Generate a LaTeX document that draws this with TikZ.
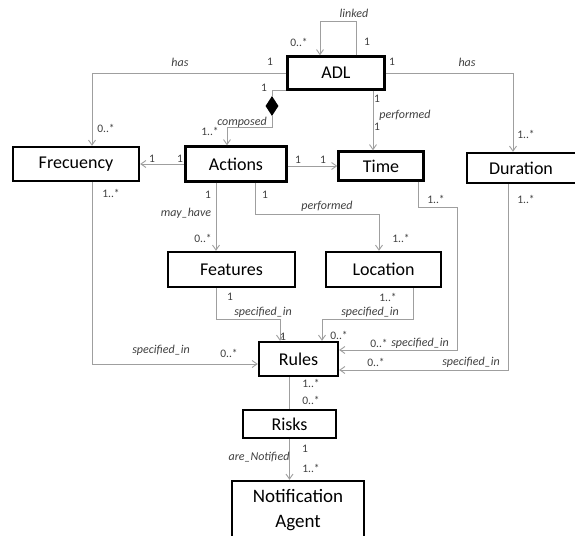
\documentclass[tikz,border=0pt]{standalone}
\usepackage{fontspec}
\setmainfont{Carlito}
\usepackage{tikz}
\usetikzlibrary{arrows.meta,shapes.geometric}

\begin{document}
\begin{tikzpicture}[x=1pt,y=-1pt,
  box/.style={draw=black,line width=2.4pt,inner sep=0pt,font=\fontsize{18}{20}\selectfont},
  conn/.style={draw=gray!75,line width=0.9pt},
  arr/.style={conn,-{Straight Barb[length=5pt,width=7pt]}},
  mult/.style={inner sep=0pt,text=black!75,font=\fontsize{11.5}{13}\selectfont},
  role/.style={inner sep=0pt,text=black!75,font=\fontsize{12}{14}\selectfont\itshape}]
\useasboundingbox[fill=white] (0,0) rectangle (575,535);

\node[box,minimum width=97pt,minimum height=33pt] (adl) at (336,73) {ADL};
\node[box,minimum width=126pt,minimum height=34pt] (frecuency) at (76,164) {Frecuency};
\node[box,minimum width=101pt,minimum height=35pt] (actions) at (236,164) {Actions};
\node[box,minimum width=85pt,minimum height=29pt] (time) at (381,166) {Time};
\node[box,minimum width=118pt,minimum height=30pt] (duration) at (526,168) {\hspace*{-10pt}Duration};
\node[box,minimum width=127pt,minimum height=35pt] (features) at (231.5,269.5) {Features};
\node[box,minimum width=115pt,minimum height=35pt] (location) at (383.5,269.5) {Location};
\node[box,minimum width=79pt,minimum height=34pt] (rules) at (298.5,359) {Rules};
\node[box,minimum width=93pt,minimum height=28pt] (risks) at (289.5,424) {Risks};
\node[box,minimum width=132pt,minimum height=58pt,align=center,
  font=\fontsize{19}{25}\selectfont] (notif) at (298,510) {Notification\\Agent};
\node[diamond,fill=black,inner sep=0pt,minimum width=13pt,minimum height=20pt] (dia) at (272,106) {};

\draw[arr] ([xshift=20pt]adl.north) -- ++(0,-34) -| ([xshift=-16pt]adl.north);
\draw[arr] (adl.west) -| ([xshift=16pt]frecuency.north);
\draw[arr] (adl.east) -| ([xshift=-13pt]duration.north);
\draw[conn] (adl.south west) -| (dia.north);
\draw[arr] (dia.south) -- ++(0,11) -| ([xshift=-9pt]actions.north);
\draw[arr] ([xshift=37pt]adl.south) -- ([xshift=37pt]adl.south |- time.north);
\draw[arr] (actions.west) -- (frecuency.east);
\draw[arr] (time.west -| actions.east) -- (time.west);
\draw[arr] ([xshift=-20pt]actions.south) -- ([xshift=-20pt]actions.south |- features.north);
\draw[arr] ([xshift=19pt]actions.south) -- ++(0,31.5) -| ([xshift=-4.5pt]location.north);
\draw[arr] ([xshift=-15.5pt]features.south) -- ++(0,31) -| ([xshift=-18.5pt]rules.north);
\draw[arr] ([xshift=29.5pt]location.south) -- ++(0,31) -| ([xshift=23.5pt]rules.north);
\draw[arr] ([xshift=16pt]frecuency.south) |- ([yshift=-5pt]rules.west);
\draw[arr] ([xshift=37pt]time.south) -- ++(0,26) -- ++(39,0) |- ([yshift=9pt]rules.east);
\draw[arr] ([xshift=-18pt]duration.south) |- ([yshift=-11pt]rules.east);
\draw[conn] (risks.north |- rules.south) -- (risks.north);
\draw[arr] (risks.south) -- (risks.south |- notif.north);

\node[role] (tLinked) at (354,13) {linked};
\node[mult] (mLinkA) at (299,42) {0..*};
\node[mult] (mLinkB) at (367,42) {1};
\node[role] (tHasA) at (180,62) {has};
\node[mult] (mHasA1) at (270,62) {1};
\node[mult] (mHasA2) at (106,128) {0..*};
\node[mult] (mHasB1) at (392,62) {1};
\node[role] (tHasB) at (467,62) {has};
\node[mult] (mHasB2) at (526,134) {1..*};
\node[mult] (mCompA) at (264,88) {1};
\node[role] (tComp) at (242,122) {composed};
\node[mult] (mCompB) at (210,131) {1..*};
\node[mult] (mPerfA) at (377,99) {1};
\node[role] (tPerfA) at (405,115) {performed};
\node[mult] (mPerfB) at (377,127) {1};
\node[mult] (mFreA) at (152,159) {1};
\node[mult] (mFreB) at (180,159) {1};
\node[mult] (mTimA) at (298,160) {1};
\node[mult] (mTimB) at (323,160) {1};
\node[mult] (mMayA) at (208,195) {1};
\node[role] (tMay) at (186,213) {may\_have};
\node[mult] (mMayB) at (203,238) {0..*};
\node[mult] (mLocA) at (265,195) {1};
\node[role] (tPerfB) at (327,206) {performed};
\node[mult] (mLocB) at (401,238) {1..*};
\node[mult] (mFreC) at (111,193) {1..*};
\node[mult] (mTimC) at (436,199) {1..*};
\node[mult] (mDurC) at (526,199) {1..*};
\node[mult] (mFeaA) at (230,297) {1};
\node[role] (tFea) at (263,312) {specified\_in};
\node[mult] (mFeaB) at (283,337) {1};
\node[mult] (mLocC) at (388,297) {1..*};
\node[role] (tLoc) at (370,312) {specified\_in};
\node[mult] (mLocD) at (339,335) {0..*};
\node[mult] (mTimD) at (379,343) {0..*};
\node[role] (tTim) at (420,343) {specified\_in};
\node[mult] (mDurD) at (376,362) {0..*};
\node[role] (tDur) at (471,362) {specified\_in};
\node[role] (tFre) at (161,350) {specified\_in};
\node[mult] (mFreD) at (229,353) {0..*};
\node[mult] (mRiskA) at (311,383) {1..*};
\node[mult] (mRiskB) at (311,400) {0..*};
\node[mult] (mNotA) at (305,449) {1};
\node[role] (tNot) at (259,457) {are\_Notified};
\node[mult] (mNotB) at (311,468) {1..*};
\end{tikzpicture}
\end{document}
